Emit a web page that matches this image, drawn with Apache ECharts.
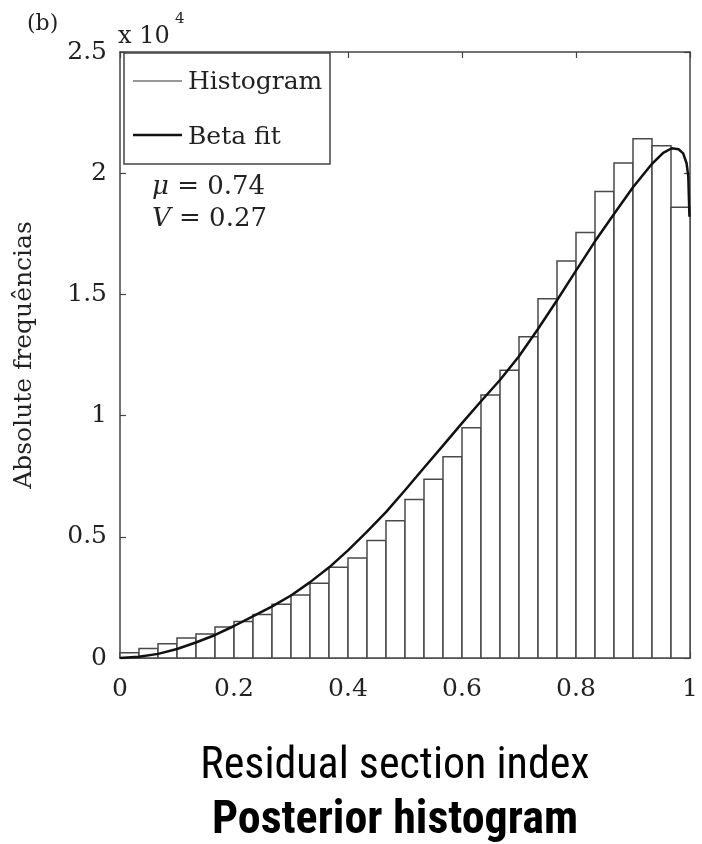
<!DOCTYPE html>
<html>
<head>
<meta charset="utf-8">
<script src="https://cdn.jsdelivr.net/npm/echarts@6/dist/echarts.min.js"></script>
<style>
  html, body { margin: 0; padding: 0; background: #fff; }
  #chart { width: 702px; height: 844px; }
</style>
</head>
<body>
<div id="chart"></div>
<script>
// ---- data ----
const histCounts = [220, 390, 590, 825, 990, 1280, 1510, 1790, 2215, 2595,
                    3080, 3740, 4130, 4850, 5660, 6540, 7370, 8300, 9500, 10850,
                    11870, 13250, 14820, 16380, 17550, 19240, 20420, 21420, 21130, 18600];
const binMin = 0;
const binMax = 1;
const fitX = [0, 0.033, 0.067, 0.1, 0.133, 0.167, 0.2, 0.233, 0.267, 0.3,
              0.333, 0.367, 0.4, 0.433, 0.467, 0.5, 0.533, 0.567, 0.6, 0.633,
              0.667, 0.7, 0.733, 0.767, 0.8, 0.833, 0.867, 0.9, 0.933, 0.953,
              0.968, 0.98, 0.988, 0.994, 0.997, 0.999];
const fitY = [0, 50, 170, 370, 640, 950, 1320, 1720, 2130, 2580,
              3120, 3740, 4440, 5200, 6030, 6920, 7840, 8770, 9690, 10580,
              11480, 12450, 13560, 14770, 15980, 17180, 18330, 19420, 20380, 20840,
              21030, 20990, 20820, 20410, 19860, 18200];
const xTickLabels = ['0', '0.2', '0.4', '0.6', '0.8', '1'];
const yTickLabels = ['0', '0.5', '1', '1.5', '2', '2.5'];
const legendNames = ['Histogram', 'Beta fit'];
const statsText = ['\u03bc', ' = 0.74', 'V', ' = 0.27'];

// ---- build ----
const binW = (binMax - binMin) / histCounts.length;
const histData = histCounts.map((v, i) => [binMin + i * binW, binMin + (i + 1) * binW, v]);
const fitData = fitX.map((x, i) => [x, fitY[i]]);

const serif = 'DejaVu Serif';
const axisColor = '#444';

function axisCommon(pos, showLabel, labels, step) {
  return {
    type: 'value',
    position: pos,
    axisLine: { show: true, onZero: false, lineStyle: { color: axisColor, width: 1.5 } },
    axisTick: { show: true, inside: true, length: 6, lineStyle: { color: axisColor, width: 1.2 } },
    splitLine: { show: false },
    axisLabel: {
      show: showLabel,
      fontFamily: serif,
      fontSize: 25,
      color: '#222',
      formatter: v => labels[Math.round(v / step)]
    }
  };
}

const chart = echarts.init(document.getElementById('chart'));
const xBottom = Object.assign(axisCommon('bottom', true, xTickLabels, 0.2), { min: 0, max: 1, interval: 0.2 });
xBottom.axisLabel.margin = 19;
const xTop = Object.assign(axisCommon('top', false, xTickLabels, 0.2), { min: 0, max: 1, interval: 0.2 });
const yLeft = Object.assign(axisCommon('left', true, yTickLabels, 5000), {
  min: 0, max: 25000, interval: 5000,
  name: 'Absolute frequ\u00eancias',
  nameLocation: 'middle',
  nameGap: 83,
  nameRotate: 90,
  nameTextStyle: { fontFamily: serif, fontSize: 25, color: '#222' }
});
yLeft.axisLabel.margin = 13;
yLeft.axisLabel.padding = [7, 0, 0, 0];
const yRight = Object.assign(axisCommon('right', false, yTickLabels, 5000), { min: 0, max: 25000, interval: 5000 });

chart.setOption({
  animation: false,
  backgroundColor: '#fff',
  grid: { left: 120, right: 12, top: 52, bottom: 186, containLabel: false },
  xAxis: [xBottom, xTop],
  yAxis: [yLeft, yRight],
  series: [
    {
      type: 'custom',
      name: legendNames[0],
      xAxisIndex: 0,
      yAxisIndex: 0,
      data: histData,
      encode: { x: [0, 1], y: 2 },
      z: 2,
      renderItem: function (params, api) {
        const p0 = api.coord([api.value(0), api.value(2)]);
        const p1 = api.coord([api.value(1), 0]);
        return {
          type: 'rect',
          shape: { x: p0[0], y: p0[1], width: p1[0] - p0[0], height: p1[1] - p0[1] },
          style: { fill: '#fff', stroke: '#4a4a4a', lineWidth: 1.5 }
        };
      }
    },
    {
      type: 'line',
      name: legendNames[1],
      xAxisIndex: 0,
      yAxisIndex: 0,
      data: fitData,
      showSymbol: false,
      symbol: 'none',
      smooth: false,
      z: 3,
      lineStyle: { color: '#111', width: 2.5, join: 'round' }
    }
  ],
  graphic: [
    { type: 'rect', z: 100, shape: { x: 124, y: 53, width: 206, height: 111 },
      style: { fill: '#fff', stroke: '#444', lineWidth: 1.5 } },
    { type: 'line', z: 101, shape: { x1: 133, y1: 81, x2: 182, y2: 81 },
      style: { stroke: '#333', lineWidth: 1.2 } },
    { type: 'text', z: 101, x: 188, y: 82,
      style: { text: legendNames[0], fill: '#222', font: '25px "DejaVu Serif"', verticalAlign: 'middle', align: 'left' } },
    { type: 'line', z: 101, shape: { x1: 133, y1: 135, x2: 182, y2: 135 },
      style: { stroke: '#111', lineWidth: 2.5 } },
    { type: 'text', z: 101, x: 188, y: 137,
      style: { text: legendNames[1], fill: '#222', font: '25px "DejaVu Serif"', verticalAlign: 'middle', align: 'left' } },
    { type: 'text', z: 101, x: 152, y: 187,
      style: {
        text: '{i|' + statsText[0] + '}' + statsText[1],
        fill: '#222', font: '26px "DejaVu Serif"', verticalAlign: 'middle', align: 'left',
        rich: { i: { fontStyle: 'italic', fontFamily: serif, fontSize: 26, fill: '#222' } }
      } },
    { type: 'text', z: 101, x: 152, y: 219,
      style: {
        text: '{i|' + statsText[2] + '}' + statsText[3],
        fill: '#222', font: '26px "DejaVu Serif"', verticalAlign: 'middle', align: 'left',
        rich: { i: { fontStyle: 'italic', fontFamily: serif, fontSize: 26, fill: '#222' } }
      } },
    { type: 'text', x: 118, y: 37,
      style: { text: 'x 10', fill: '#222', font: '24px "DejaVu Serif"', verticalAlign: 'middle', align: 'left' } },
    { type: 'text', x: 175, y: 19,
      style: { text: '4', fill: '#222', font: '15px "DejaVu Serif"', verticalAlign: 'middle', align: 'left' } },
    { type: 'text', x: 27, y: 24,
      style: { text: '(b)', fill: '#222', font: '22px "DejaVu Serif"', verticalAlign: 'middle', align: 'left' } },
    { type: 'text', x: 395, y: 767,
      style: { text: 'Residual section index', fill: '#000',
        font: '44px "Liberation Sans Narrow", "Roboto Condensed", "Liberation Sans", sans-serif',
        verticalAlign: 'middle', align: 'center' } },
    { type: 'text', x: 395, y: 821,
      style: { text: 'Posterior histogram', fill: '#000',
        font: 'bold 46px "Liberation Sans Narrow", "Roboto Condensed", "Liberation Sans", sans-serif',
        verticalAlign: 'middle', align: 'center' } }
  ]
});
</script>
</body>
</html>
